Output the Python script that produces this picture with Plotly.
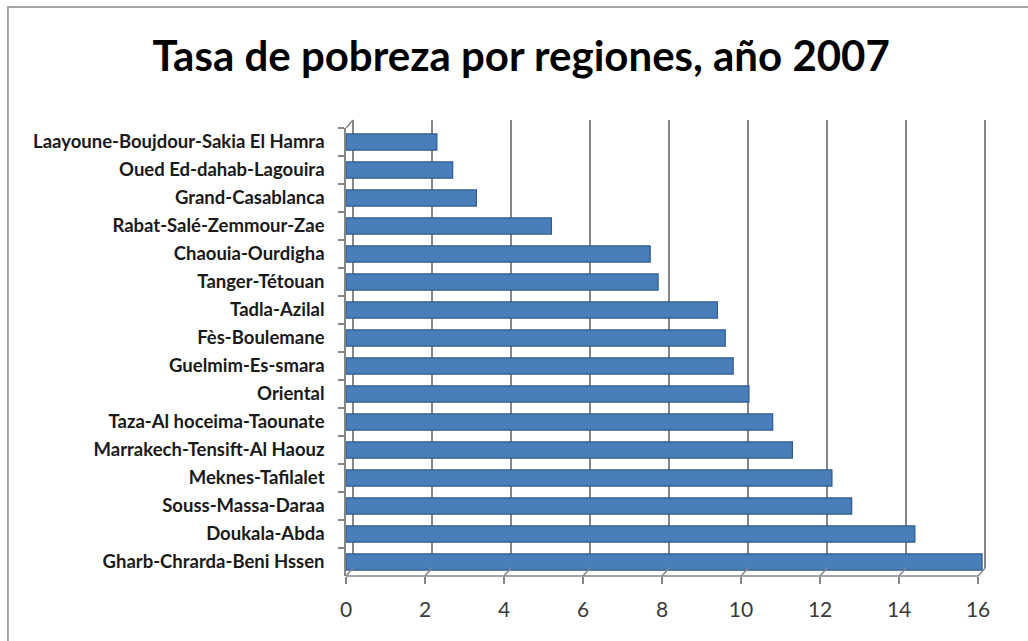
import plotly.graph_objects as go

regions = [
    "Laayoune-Boujdour-Sakia El Hamra",
    "Oued Ed-dahab-Lagouira",
    "Grand-Casablanca",
    "Rabat-Salé-Zemmour-Zae",
    "Chaouia-Ourdigha",
    "Tanger-Tétouan",
    "Tadla-Azilal",
    "Fès-Boulemane",
    "Guelmim-Es-smara",
    "Oriental",
    "Taza-Al hoceima-Taounate",
    "Marrakech-Tensift-Al Haouz",
    "Meknes-Tafilalet",
    "Souss-Massa-Daraa",
    "Doukala-Abda",
    "Gharb-Chrarda-Beni Hssen",
]
rates = [2.3, 2.7, 3.3, 5.2, 7.7, 7.9, 9.4, 9.6, 9.8, 10.2, 10.8, 11.3, 12.3, 12.8, 14.4, 16.1]
x_ticks = [0, 2, 4, 6, 8, 10, 12, 14, 16]
title_text = "Tasa de pobreza por regiones, año 2007"

W, H = 1028, 641
XMAX = 16.2
UNIT = 39.5              # px per unit
L, T, B = 346, 120, 65
DX, DY = 7, 8            # 3D depth offset in px
front_w = UNIT * XMAX
PW = front_w + DX
R = W - L - PW
PH = H - T - B

def px_x(p):
    return (p - L) / PW

def px_y(p):
    return (H - B - p) / PH

GRID = "#868686"
AX = "#868686"
FONT = "Lato"

fig = go.Figure()
fig.add_trace(go.Scatter(x=[None], y=[None], xaxis="x", yaxis="y", showlegend=False, hoverinfo="skip"))
fig.add_trace(go.Bar(
    x=rates, y=regions, orientation="h", xaxis="x2", yaxis="y2",
    width=0.58,
    marker=dict(color="#4a7ebb", line=dict(color="#2f5a8e", width=1.2)),
    showlegend=False,
))

fig.update_layout(
    width=W, height=H,
    margin=dict(l=L, r=R, t=T, b=B),
    paper_bgcolor="white",
    plot_bgcolor="rgba(0,0,0,0)",
    title=dict(text=title_text, x=0.507, xanchor="center", y=1 - 56 / H, yanchor="middle",
               yref="container",
               font=dict(family=FONT, size=42, color="#000000", weight="bold")),
    xaxis=dict(domain=[DX / PW, 1], range=[0, XMAX], tickvals=x_ticks, showgrid=True,
               gridcolor=GRID, gridwidth=1.6, zeroline=True, zerolinecolor=GRID, zerolinewidth=1.6,
               showticklabels=False, ticks="", showline=False, anchor="y", fixedrange=True),
    yaxis=dict(domain=[DY / PH, 1], range=[0, 1], showgrid=False, zeroline=False,
               showticklabels=False, ticks="", showline=False, anchor="x"),
    xaxis2=dict(domain=[0, front_w / PW], range=[0, XMAX], tickvals=x_ticks, showgrid=False,
                zeroline=False, showline=False,
                ticks="outside", ticklen=7, tickcolor=AX, tickwidth=1.5, ticklabelstandoff=8,
                tickfont=dict(family=FONT, size=21, color="#3a3a3a"), anchor="y2"),
    yaxis2=dict(domain=[0, (PH - DY) / PH], categoryorder="array", categoryarray=regions,
                autorange=False, range=[len(regions) - 0.5, -0.5],
                showgrid=False, zeroline=False, showline=True, linecolor=AX, linewidth=1.5,
                ticks="outside", ticklen=6, tickcolor=AX, tickwidth=1.5, tickson="boundaries",
                ticklabelstandoff=16,
                tickfont=dict(family=FONT, size=18.5, color="#1a1a1a", weight="bold"), anchor="x2"),
)

shapes = []
# outer chart border
shapes.append(dict(type="rect", xref="paper", yref="paper",
                   x0=px_x(8), y0=px_y(H + 20), x1=px_x(W + 20), y1=px_y(7),
                   line=dict(color="#8a8a8a", width=1.5), fillcolor="rgba(0,0,0,0)", layer="below"))
front_bottom = H - B
# front floor edge
shapes.append(dict(type="line", xref="paper", yref="paper",
                   x0=px_x(L), y0=px_y(front_bottom), x1=px_x(L + 16 * UNIT), y1=px_y(front_bottom),
                   line=dict(color=AX, width=1.5)))
# floor diagonals at x ticks
for v in x_ticks:
    fx = L + v * UNIT
    shapes.append(dict(type="line", xref="paper", yref="paper",
                       x0=px_x(fx), y0=px_y(front_bottom), x1=px_x(fx + DX), y1=px_y(front_bottom - DY),
                       line=dict(color=GRID, width=1.5)))
# top-left diagonal of the side wall
shapes.append(dict(type="line", xref="paper", yref="paper",
                   x0=px_x(L), y0=px_y(T + DY), x1=px_x(L + DX), y1=px_y(T),
                   line=dict(color=GRID, width=1.5)))
fig.update_layout(shapes=shapes)

fig.write_html("out.html", config={"displayModeBar": False},
               post_script="document.body.style.margin='0';")
